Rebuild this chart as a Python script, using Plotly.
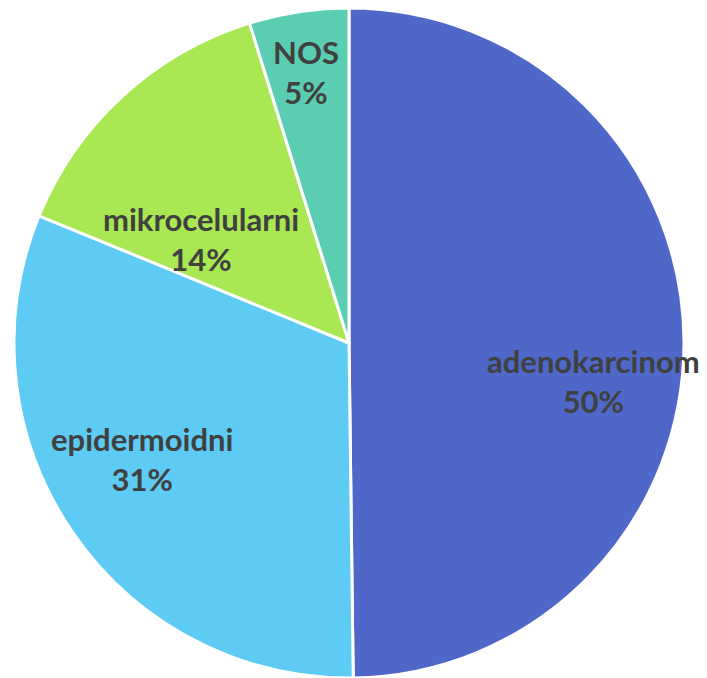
import numpy as np
import plotly.graph_objects as go

# slice data (clockwise from 12 o'clock)
labels = ["adenokarcinom", "epidermoidni", "mikrocelularni", "NOS"]
values = [49.8, 31.4, 14.0, 4.8]
colors = ["#4F67C8", "#5DCBF3", "#A9E852", "#5BCDB2"]

# label placement: fraction of radius and angular nudge (degrees, clockwise)
label_r = [0.74, 0.71, 0.54, 0.82]
label_nudge = [9.2, 4.9, -12.6, -0.3]

W, H = 707, 678
# page body has an 8px margin, so figure coords are offset from the screen
cx, cy, R = 341, 335, 335

fig = go.Figure(go.Pie(
    labels=labels,
    values=values,
    sort=False,
    direction="clockwise",
    rotation=0,
    marker=dict(colors=colors, line=dict(color="white", width=3)),
    textinfo="none",
    hoverinfo="label+percent",
    showlegend=False,
    domain=dict(x=[0, 2 * cx / W], y=[1 - (cy + R) / H, 1 - (cy - R) / H]),
))

# labels placed at slice mid-angles
total = sum(values)
start = 0.0
for lab, v, rf, nud in zip(labels, values, label_r, label_nudge):
    mid = np.radians(start + v / total * 360 / 2 + nud)
    start += v / total * 360
    px = cx + rf * R * np.sin(mid)
    py = cy - rf * R * np.cos(mid)
    fig.add_annotation(
        x=px / W, y=1 - py / H, xref="paper", yref="paper",
        xanchor="center", yanchor="middle",
        text=f"<b>{lab}<br>{round(v / total * 100):.0f}%</b>",
        showarrow=False,
        font=dict(family="Lato", size=31, color="#404040"),
    )

fig.update_layout(
    width=W, height=H,
    margin=dict(l=0, r=0, t=0, b=0),
    paper_bgcolor="white",
)

fig.write_html("out.html")
